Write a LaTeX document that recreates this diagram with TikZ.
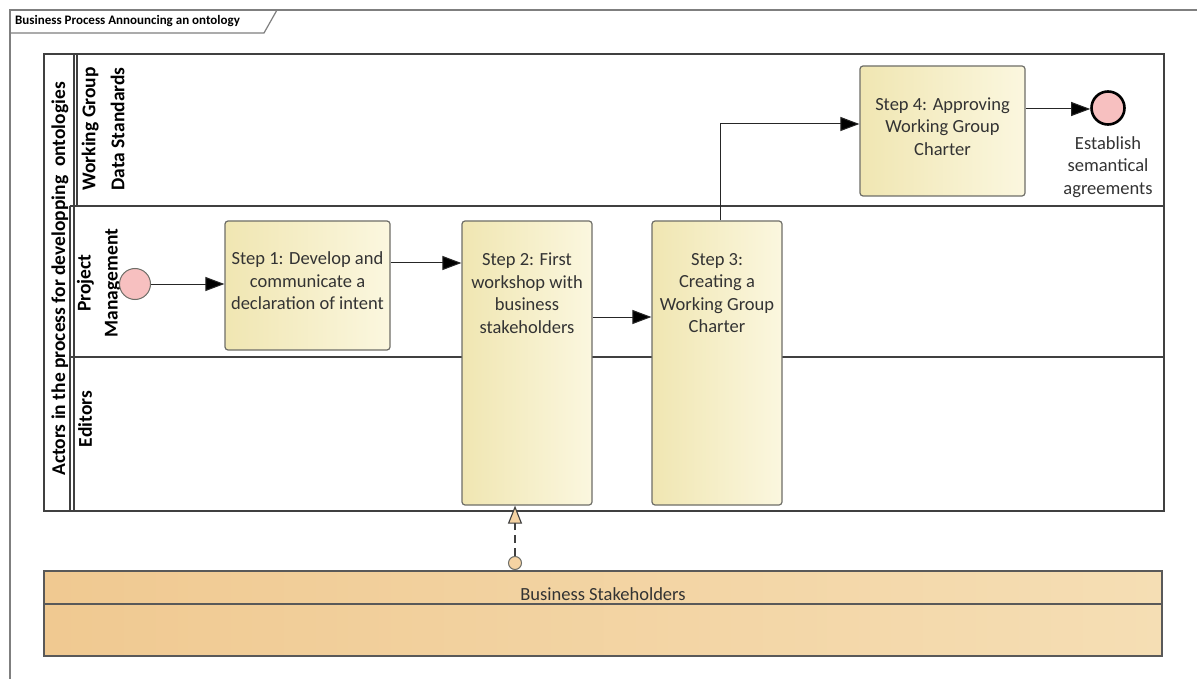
\documentclass[tikz,border=0pt]{standalone}
\usepackage{fontspec}
\setmainfont{Carlito}
\usetikzlibrary{arrows.meta,calc}
\definecolor{boxL}{HTML}{F0E6B2}
\definecolor{boxR}{HTML}{FBF7DF}
\definecolor{boxB}{HTML}{6E6E68}
\definecolor{evFill}{HTML}{F7C0C0}
\definecolor{bandL}{HTML}{F0C991}
\definecolor{bandR}{HTML}{F5DEB4}
\definecolor{peach}{HTML}{F5D3A3}
\definecolor{txt}{HTML}{333333}
\definecolor{frameC}{HTML}{7F7F7F}
\tikzset{
  x=1pt,y=-1pt,
  stepbox/.style={draw=boxB, line width=1.2pt, rounded corners=3pt, left color=boxL, right color=boxR, inner sep=0pt},
  steptext/.style={align=center, font=\fontsize{18.5}{22.5}\selectfont, text=txt, inner sep=0pt},
  lanetext/.style={rotate=90, align=center, font=\fontsize{19.5}{28}\selectfont\bfseries, inner sep=0pt, anchor=center},
  startev/.style={circle, draw=boxB, line width=1pt, fill=evFill, minimum size=31pt, inner sep=0pt},
  endev/.style={circle, draw=black, line width=2.6pt, fill=evFill, minimum size=33pt, inner sep=0pt},
  flow/.style={draw=black!85, line width=1pt, -{Triangle[length=19pt,width=14pt,fill=black]}},
  poolline/.style={draw=black!75, line width=1.2pt},
}
\begin{document}
\begin{tikzpicture}
\useasboundingbox (0,0) rectangle (1197,679);
\fill[white] (0,0) rectangle (1197,679);
% outer frame with title tab
\draw[frameC, line width=1.5pt] (1197,10) -- (10,10) -- (10,679);
\draw[frameC, line width=1.2pt] (10,33) -- (264,33) -- (277,10);
\node[anchor=west, font=\fontsize{13}{15}\selectfont\bfseries, inner sep=0pt] (title) at (15,21) {Business Process Announcing an ontology};
% pool
\draw[poolline] (44,54) rectangle (1164,511);
\draw[poolline] (74,54) -- (74,511);
\draw[poolline] (77,54) -- (77,206);
\draw[poolline] (70,206) -- (70,511);
\draw[poolline] (70,206) -- (1164,206);
\draw[poolline] (70,357) -- (1164,357);
\node[lanetext] (pool) at (60,279) {Actors in the process for developping\ \ ontologies};
\node[lanetext, font=\fontsize{19.5}{29}\selectfont\bfseries] (lane1) at (103,129) {Working Group\\Data Standards};
\node[lanetext, font=\fontsize{19.5}{27}\selectfont\bfseries] (lane2) at (99,283) {Project\\Management};
\node[lanetext] (lane3) at (85,419) {Editors};
% steps
\node[startev] (start) at (135,284) {};
\node[stepbox, minimum width=165pt, minimum height=129pt] (s1) at (307.5,285.5) {};
\node[steptext] (t1) at (307.5,281) {Step 1: Develop and\\communicate a\\declaration of intent};
\node[stepbox, minimum width=130pt, minimum height=284pt] (s2) at (527,363) {};
\node[steptext, anchor=north] (t2) at (527,253) {Step 2: First\\workshop with\\business\\stakeholders};
\node[stepbox, minimum width=130pt, minimum height=284pt] (s3) at (717,363) {};
\node[steptext, anchor=north] (t3) at (717,253) {Step 3:\\Creating a\\Working Group\\Charter};
\node[stepbox, minimum width=165pt, minimum height=130pt] (s4) at (942.5,131) {};
\node[steptext] (t4) at (942.5,126.5) {Step 4: Approving\\Working Group\\Charter};
\node[endev] (end) at (1108,108) {};
\node[steptext, anchor=north] (endlbl) at (1108,136) {Establish\\semantical\\agreements};
% flows
\draw[flow] (start.east) -- (start.east -| s1.west);
\draw[flow] ([yshift=22.5pt]s1.east) -- ([yshift=22.5pt]s1.east -| s2.west);
\draw[flow] ([yshift=46pt]s2.east) -- ([yshift=46pt]s2.east -| s3.west);
\draw[flow] ([xshift=3pt]s3.north) |- ([yshift=7pt]s4.west);
\draw[flow] ([yshift=22pt]s4.east) -- ([yshift=22pt]s4.east -| end.west);
% business stakeholders band
\node[draw=black!65, line width=1.2pt, left color=bandL, right color=bandR, minimum width=1118pt, minimum height=85pt, inner sep=0pt] (band) at (603,613.5) {};
\draw[black!65, line width=1.2pt] (band.west |- 0,604) -- (band.east |- 0,604);
\node[steptext] (bandlbl) at (603,594) {Business Stakeholders};
% association
\node[circle, draw=boxB, line width=1pt, fill=peach, minimum size=13pt, inner sep=0pt] (assoc) at (515,563) {};
\draw[draw=black!75, line width=1.1pt, dash pattern=on 8pt off 5pt, -{Triangle[open, length=18pt, width=14pt, fill=peach]}] (assoc.north) -- (assoc.north |- s2.south);
\end{tikzpicture}
\end{document}
